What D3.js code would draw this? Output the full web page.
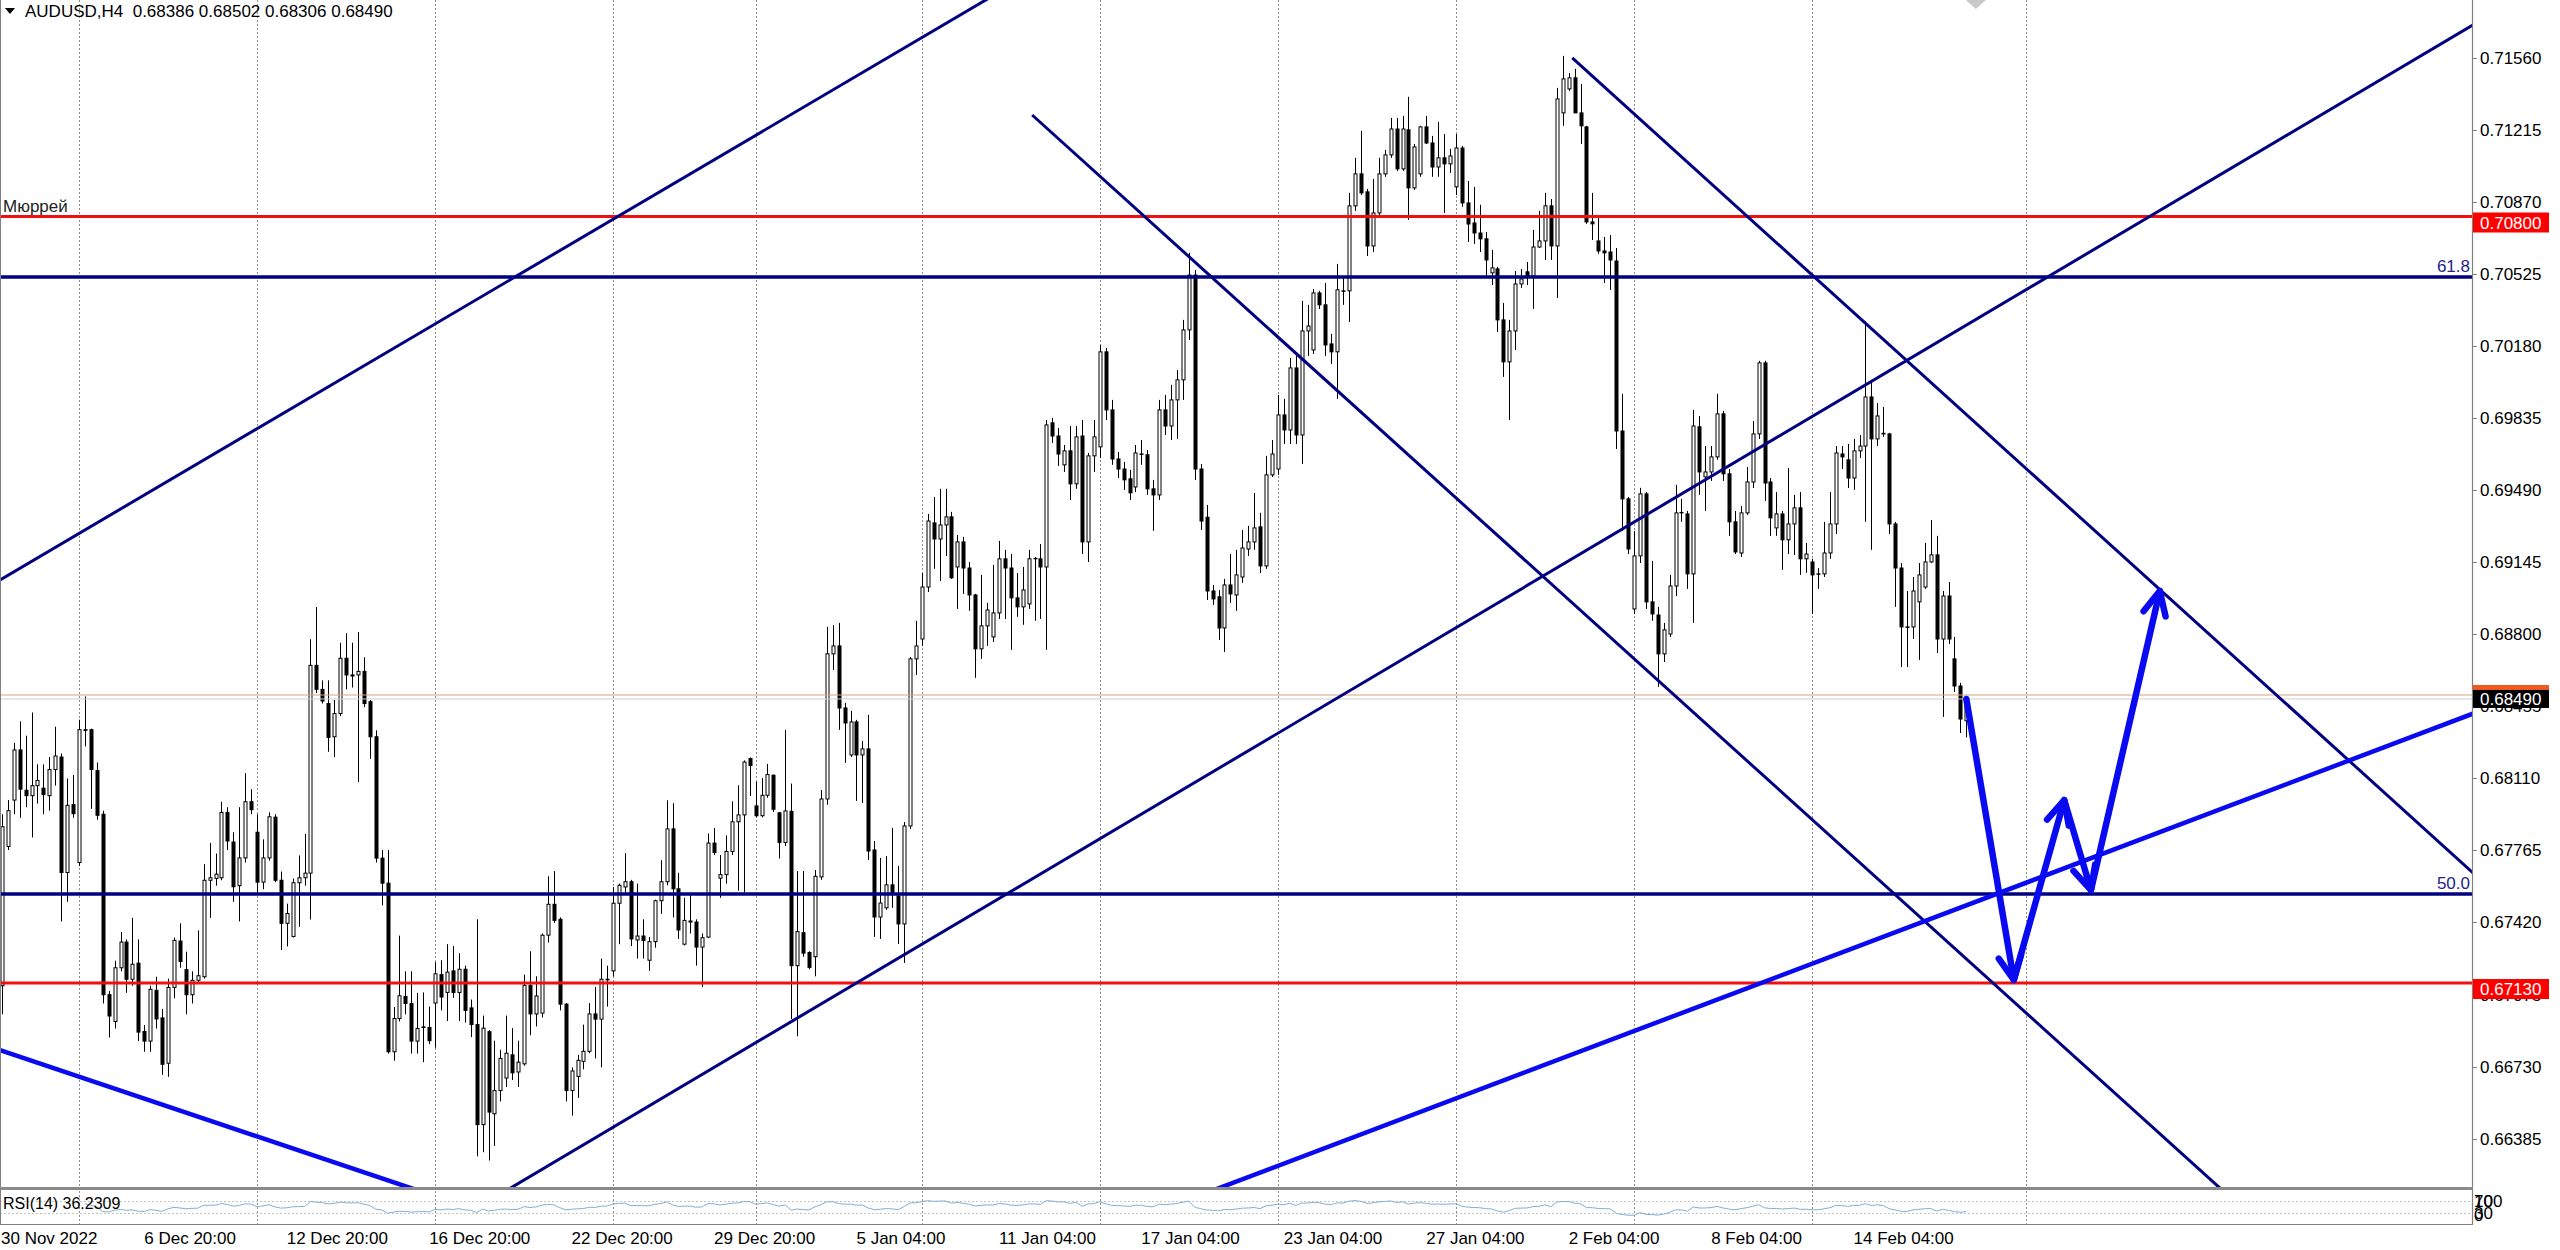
<!DOCTYPE html>
<html><head><meta charset="utf-8">
<script src="https://cdn.jsdelivr.net/npm/d3@7"></script>
<style>html,body{margin:0;padding:0;background:#fff;}svg{display:block;}text{font-family:"Liberation Sans",Arial,sans-serif;}</style>
</head><body>
<svg id="chart" width="2560" height="1250"></svg>
<script>
// ---------------- DATA ----------------
const headerText = "AUDUSD,H4  0.68386 0.68502 0.68306 0.68490";
const opens = [
0.67117,0.67784,0.68006,0.68246,0.68053,0.68027,0.68075,0.68063,0.68027,0.68152,
0.68212,0.67659,0.67984,0.67707,0.68343,0.68343,0.68147,0.67938,0.67074,0.66946,
0.67203,0.67326,0.67148,0.67225,0.66898,0.66852,0.67095,0.66963,0.66746,0.67109,
0.67331,0.67194,0.67074,0.67143,0.67160,0.67622,0.67631,0.67634,0.67947,0.67805,
0.67596,0.67729,0.67998,0.67852,0.67613,0.67729,0.67924,0.67622,0.67416,0.67353,
0.67610,0.67634,0.67656,0.68651,0.68536,0.68468,0.68309,0.68420,0.68685,0.68605,
0.68605,0.68622,0.68477,0.68309,0.67728,0.67608,0.66801,0.66960,0.67066,0.67032,
0.66852,0.66917,0.66917,0.67034,0.67170,0.67085,0.67188,0.67085,0.67196,0.67011,
0.66931,0.66452,0.66897,0.66504,0.66615,0.66675,0.66786,0.66704,0.66743,0.67119,
0.66982,0.66986,0.67359,0.67507,0.67435,0.67029,0.66615,0.66683,0.66755,0.66803,
0.66982,0.66957,0.67145,0.67188,0.67512,0.67590,0.67615,0.67336,0.67355,0.67239,
0.67328,0.67524,0.67615,0.67868,0.67581,0.67316,0.67427,0.67422,0.67302,0.67350,
0.67800,0.67632,0.67649,0.67760,0.67902,0.67935,0.68205,0.67978,0.67931,0.68029,
0.68125,0.67945,0.67803,0.67952,0.67213,0.67371,0.67276,0.67256,0.67638,0.68011,
0.68706,0.68744,0.68447,0.68222,0.68380,0.68222,0.68251,0.67767,0.67446,0.67490,
0.67600,0.67547,0.67413,0.67882,0.68682,0.68777,0.69026,0.69333,0.69256,0.69323,
0.69362,0.69122,0.69242,0.69117,0.68988,0.68730,0.68840,0.68787,0.68902,0.69161,
0.69117,0.68974,0.68931,0.68945,0.69161,0.69161,0.69122,0.69812,0.69749,0.69611,
0.69678,0.69520,0.69749,0.69242,0.69654,0.69697,0.70152,0.69874,0.69639,0.69591,
0.69544,0.69505,0.69663,0.69659,0.69496,0.69467,0.69874,0.69797,0.69922,0.70018,
0.70257,0.70520,0.69591,0.69360,0.69007,0.68979,0.68830,0.69036,0.68988,0.69074,
0.69208,0.69242,0.69314,0.69127,0.69563,0.69591,0.69850,0.69778,0.70075,0.69754,
0.70252,0.70161,0.70434,0.70377,0.70190,0.70152,0.70444,0.70444,0.70851,0.71004,
0.70918,0.70659,0.70817,0.71004,0.71095,0.71219,0.71028,0.71215,0.70937,0.71004,
0.71229,0.71152,0.71037,0.71081,0.71052,0.70942,0.71128,0.70865,0.70769,0.70721,
0.70693,0.70530,0.70549,0.70305,0.70104,0.70252,0.70477,0.70535,0.70515,0.70654,
0.70683,0.70851,0.70659,0.71296,0.71411,0.71464,0.71296,0.71229,0.70774,0.70683,
0.70635,0.70630,0.70587,0.69773,0.69448,0.68921,0.69175,0.69472,0.68955,0.68892,
0.68706,0.68801,0.69031,0.69381,0.69376,0.69089,0.69793,0.69553,0.69577,0.69649,
0.69855,0.69568,0.69338,0.69189,0.69381,0.69529,0.69759,0.70099,0.69529,0.69309,
0.69376,0.69252,0.69328,0.69405,0.69161,0.69146,0.69089,0.69089,0.69189,0.69328,
0.69663,0.69635,0.69548,0.69678,0.69701,0.69936,0.69735,0.69762,0.69759,0.69328,
0.69117,0.68835,0.68835,0.68955,0.69026,0.69146,0.69180,0.68777,0.68983,0.68682,
0.68552,0.68386];
const highs = [
0.67938,0.68006,0.68280,0.68383,0.68314,0.68425,0.68177,0.68177,0.68212,0.68357,
0.68229,0.68109,0.68126,0.68391,0.68502,0.68348,0.68186,0.67955,0.67092,0.67237,
0.67374,0.67339,0.67442,0.67339,0.66929,0.67117,0.67160,0.67006,0.67151,0.67348,
0.67416,0.67280,0.67186,0.67382,0.67699,0.67801,0.67750,0.67998,0.67972,0.67852,
0.67972,0.68135,0.68058,0.67938,0.67818,0.67947,0.67938,0.67664,0.67510,0.67630,
0.67741,0.67844,0.68776,0.68930,0.68579,0.68579,0.68485,0.68759,0.68805,0.68759,
0.68810,0.68690,0.68485,0.68340,0.67767,0.67767,0.67015,0.67357,0.67186,0.67186,
0.67083,0.67085,0.67017,0.67230,0.67239,0.67316,0.67307,0.67273,0.67213,0.67051,
0.67435,0.66974,0.66905,0.66854,0.66811,0.66974,0.66914,0.66854,0.67170,0.67282,
0.67162,0.67367,0.67641,0.67666,0.67444,0.67034,0.66726,0.66786,0.66931,0.67034,
0.67111,0.67247,0.67213,0.67589,0.67606,0.67752,0.67624,0.67606,0.67435,0.67350,
0.67529,0.67718,0.68005,0.67991,0.67658,0.67538,0.67555,0.67435,0.67367,0.67846,
0.67872,0.67743,0.67837,0.68000,0.68077,0.68196,0.68210,0.68094,0.68111,0.68179,
0.68128,0.67949,0.68342,0.68085,0.67666,0.67666,0.67282,0.67671,0.68054,0.68835,
0.68844,0.68854,0.68471,0.68433,0.68390,0.68289,0.68414,0.67810,0.67729,0.67738,
0.67873,0.67691,0.67901,0.68691,0.68864,0.69093,0.69376,0.69457,0.69496,0.69496,
0.69386,0.69275,0.69266,0.69146,0.68993,0.69084,0.68950,0.69132,0.69247,0.69204,
0.69184,0.69093,0.69122,0.69204,0.69170,0.69232,0.69826,0.69836,0.69788,0.69706,
0.69797,0.69797,0.69826,0.69668,0.69826,0.70185,0.70171,0.69922,0.69673,0.69625,
0.69587,0.69706,0.69730,0.69682,0.69539,0.69922,0.69946,0.69994,0.70065,0.70305,
0.70626,0.70544,0.69615,0.69419,0.69036,0.69012,0.69065,0.69184,0.69204,0.69299,
0.69319,0.69476,0.69381,0.69654,0.69730,0.69946,0.69927,0.70123,0.70132,0.70396,
0.70377,0.70453,0.70444,0.70482,0.70238,0.70573,0.70511,0.70913,0.71081,0.71210,
0.70932,0.70980,0.71081,0.71119,0.71272,0.71272,0.71282,0.71373,0.71147,0.71234,
0.71282,0.71186,0.71253,0.71195,0.71124,0.71195,0.71138,0.70970,0.70942,0.70856,
0.70726,0.70640,0.70559,0.70386,0.70305,0.70539,0.70549,0.70582,0.70736,0.70827,
0.70913,0.70884,0.71416,0.71569,0.71487,0.71507,0.71435,0.71234,0.70913,0.70793,
0.70702,0.70712,0.70649,0.69951,0.69457,0.69295,0.69501,0.69481,0.69151,0.68931,
0.68854,0.69084,0.69515,0.69448,0.69390,0.69874,0.69845,0.69701,0.69701,0.69951,
0.69869,0.69591,0.69390,0.69414,0.69601,0.69821,0.70109,0.70109,0.69548,0.69481,
0.69390,0.69596,0.69467,0.69481,0.69237,0.69161,0.69117,0.69338,0.69481,0.69701,
0.69701,0.69711,0.69735,0.69754,0.70300,0.70008,0.69907,0.69888,0.69764,0.69338,
0.69141,0.69007,0.69074,0.69141,0.69237,0.69347,0.69271,0.69007,0.69050,0.68787,
0.68567,0.68502];
const lows = [
0.66980,0.67767,0.67938,0.67921,0.67972,0.67827,0.67989,0.67938,0.67955,0.68075,
0.67425,0.67519,0.67921,0.67690,0.68263,0.67964,0.67912,0.67032,0.66869,0.66912,
0.67186,0.67083,0.67117,0.66852,0.66801,0.66801,0.66912,0.66690,0.66681,0.67057,
0.67203,0.66980,0.67032,0.67126,0.67151,0.67442,0.67596,0.67622,0.67767,0.67519,
0.67425,0.67707,0.67938,0.67562,0.67579,0.67716,0.67613,0.67288,0.67305,0.67348,
0.67399,0.67596,0.67434,0.68519,0.68468,0.68237,0.68212,0.68408,0.68536,0.68545,
0.68092,0.68451,0.68203,0.67707,0.67502,0.66792,0.66758,0.66946,0.66980,0.66792,
0.66792,0.66751,0.66837,0.66820,0.66999,0.66948,0.67059,0.66948,0.66940,0.66871,
0.66300,0.66320,0.66280,0.66350,0.66563,0.66632,0.66666,0.66632,0.66734,0.66880,
0.66922,0.66965,0.67324,0.67418,0.66999,0.66563,0.66495,0.66580,0.66717,0.66794,
0.66769,0.66726,0.67017,0.67162,0.67316,0.67555,0.67307,0.67247,0.67247,0.67188,
0.67299,0.67461,0.67598,0.67444,0.67341,0.67310,0.67367,0.67213,0.67111,0.67346,
0.67743,0.67538,0.67606,0.67743,0.67572,0.67564,0.68025,0.67923,0.67923,0.68017,
0.67949,0.67726,0.67786,0.66957,0.66875,0.67256,0.67196,0.67162,0.67624,0.67983,
0.68629,0.68342,0.68184,0.68212,0.68002,0.67992,0.67719,0.67351,0.67341,0.67480,
0.67490,0.67317,0.67226,0.67868,0.68605,0.68744,0.69002,0.69113,0.69055,0.69175,
0.69065,0.68921,0.68993,0.68912,0.68591,0.68682,0.68744,0.68763,0.68873,0.68873,
0.68725,0.68883,0.68845,0.68921,0.68864,0.68873,0.68725,0.69716,0.69606,0.69577,
0.69443,0.69496,0.69184,0.69146,0.69577,0.69644,0.69826,0.69611,0.69548,0.69491,
0.69443,0.69481,0.69611,0.69467,0.69295,0.69443,0.69754,0.69730,0.69735,0.69922,
0.70209,0.69539,0.69299,0.68964,0.68940,0.68773,0.68715,0.68950,0.68912,0.69046,
0.69175,0.69204,0.69093,0.69113,0.69553,0.69563,0.69711,0.69711,0.69711,0.69615,
0.70132,0.70142,0.70357,0.70132,0.70094,0.69927,0.70377,0.70295,0.70827,0.70903,
0.70611,0.70630,0.70803,0.70990,0.71081,0.71018,0.71018,0.70784,0.70927,0.70990,
0.71147,0.70990,0.70990,0.70817,0.71009,0.70903,0.70846,0.70678,0.70669,0.70630,
0.70511,0.70472,0.70247,0.70032,0.69826,0.70161,0.70458,0.70472,0.70357,0.70650,
0.70592,0.70592,0.70410,0.71234,0.71401,0.71296,0.71147,0.70765,0.70688,0.70621,
0.70482,0.70448,0.69687,0.69295,0.69184,0.68897,0.69141,0.68921,0.68864,0.68548,
0.68667,0.68787,0.68983,0.69338,0.69017,0.68854,0.69467,0.69390,0.69534,0.69635,
0.69534,0.69271,0.69184,0.69170,0.69371,0.69500,0.69735,0.69438,0.69271,0.69271,
0.69108,0.69184,0.69179,0.69084,0.69094,0.68897,0.69017,0.69074,0.69161,0.69280,
0.69591,0.69500,0.69491,0.69644,0.69338,0.69204,0.69701,0.69745,0.69280,0.68931,
0.68643,0.68643,0.68777,0.68677,0.69017,0.69141,0.68710,0.68404,0.68753,0.68524,
0.68327,0.68306];
const closes = [
0.67878,0.67955,0.68246,0.68058,0.68027,0.68075,0.68100,0.68032,0.68152,0.68217,
0.67659,0.67981,0.67941,0.68343,0.68340,0.68152,0.67933,0.67074,0.66972,0.67203,
0.67326,0.67148,0.67220,0.66895,0.66852,0.67100,0.66958,0.66741,0.67109,0.67334,
0.67233,0.67074,0.67143,0.67165,0.67622,0.67634,0.67651,0.67947,0.67810,0.67591,
0.67729,0.67998,0.67960,0.67613,0.67729,0.67926,0.67622,0.67416,0.67463,0.67610,
0.67634,0.67656,0.68651,0.68536,0.68480,0.68306,0.68420,0.68685,0.68605,0.68600,
0.68622,0.68468,0.68309,0.67728,0.67608,0.66801,0.66960,0.67069,0.67032,0.66852,
0.66912,0.66920,0.66854,0.67174,0.67063,0.67182,0.67085,0.67196,0.66999,0.66931,
0.66452,0.66914,0.66512,0.66615,0.66769,0.66794,0.66700,0.66751,0.67119,0.66982,
0.67068,0.67359,0.67507,0.67430,0.67029,0.66615,0.66709,0.66760,0.66803,0.66982,
0.66957,0.67148,0.67148,0.67512,0.67598,0.67615,0.67341,0.67355,0.67333,0.67328,
0.67524,0.67615,0.67868,0.67581,0.67384,0.67430,0.67422,0.67302,0.67347,0.67800,
0.67755,0.67649,0.67760,0.67902,0.67935,0.68188,0.68171,0.67931,0.68029,0.68128,
0.67962,0.67803,0.67954,0.67213,0.67376,0.67273,0.67205,0.67641,0.68011,0.68706,
0.68744,0.68447,0.68375,0.68380,0.68222,0.68251,0.67762,0.67446,0.67513,0.67600,
0.67561,0.67413,0.67882,0.68682,0.68744,0.69026,0.69342,0.69256,0.69323,0.69362,
0.69070,0.69242,0.69117,0.68988,0.68730,0.68840,0.68916,0.68902,0.69161,0.69117,
0.68974,0.68931,0.69012,0.69161,0.69163,0.69122,0.69802,0.69749,0.69663,0.69678,
0.69520,0.69745,0.69242,0.69654,0.69745,0.70152,0.69874,0.69639,0.69591,0.69539,
0.69477,0.69668,0.69661,0.69496,0.69467,0.69874,0.69797,0.69922,0.70018,0.70257,
0.70520,0.69591,0.69342,0.69007,0.68969,0.68830,0.69036,0.68993,0.69084,0.69213,
0.69242,0.69309,0.69127,0.69563,0.69663,0.69850,0.69778,0.70075,0.69754,0.70252,
0.70276,0.70434,0.70377,0.70185,0.70152,0.70449,0.70442,0.70851,0.71004,0.70913,
0.70659,0.70817,0.71004,0.71095,0.71219,0.71028,0.71219,0.70937,0.71133,0.71229,
0.71152,0.71037,0.71081,0.71052,0.71090,0.71128,0.70865,0.70764,0.70721,0.70693,
0.70592,0.70554,0.70305,0.70104,0.70252,0.70477,0.70501,0.70515,0.70654,0.70683,
0.70851,0.70659,0.71363,0.71459,0.71464,0.71296,0.71234,0.70774,0.70765,0.70635,
0.70626,0.70592,0.69773,0.69448,0.69208,0.69175,0.69472,0.68955,0.68897,0.68706,
0.68821,0.69031,0.69381,0.69383,0.69089,0.69797,0.69577,0.69577,0.69649,0.69855,
0.69568,0.69338,0.69194,0.69381,0.69529,0.69759,0.70099,0.69524,0.69357,0.69376,
0.69252,0.69328,0.69405,0.69161,0.69184,0.69084,0.69087,0.69189,0.69328,0.69668,
0.69649,0.69548,0.69678,0.69701,0.69936,0.69735,0.69845,0.69759,0.69328,0.69117,
0.68835,0.68833,0.69007,0.69084,0.69146,0.69180,0.68777,0.68983,0.68777,0.68552,
0.68394,0.68490];

const priceTicks = [0.71560,0.71215,0.70870,0.70525,0.70180,0.69835,0.69490,0.69145,0.68800,0.68455,0.68110,0.67765,0.67420,0.67075,0.66730,0.66385];
const timeLabels = ["30 Nov 2022","6 Dec 20:00","12 Dec 20:00","16 Dec 20:00","22 Dec 20:00","29 Dec 20:00","5 Jan 04:00","11 Jan 04:00","17 Jan 04:00","23 Jan 04:00","27 Jan 04:00","2 Feb 04:00","8 Feb 04:00","14 Feb 04:00"];
const timeLabelBars = [0,24,48,72,96,120,144,168,192,216,240,264,288,312];
const weekStartBars = [13,43,73,103,127,155,185,215,245,275,305,341];

// horizontal levels
const redLevels = [0.70800, 0.67130];
const fibLevels = [0.70510, 0.67556];
const fibLabels = ["61.8", "50.0"];
const askPrice = 0.68509;
const bidPrice = 0.68490;
// trend lines: [bar1, price1, bar2, price2]
const navyLines = [
  [-0.31, 0.69060, 165.8, 0.71837],
  [85.45, 0.66144, 416.2, 0.71715],
  [173.6, 0.71286, 373.9, 0.66144],
  [264.6, 0.71559, 416.2, 0.67662]
];
const navyLineRay = [false, false, true, true];
const blueLines = [
  [-0.31, 0.66809, 54.8, 0.66283],
  [204.7, 0.66144, 416.2, 0.68418]
];
// forecast arrow path
const arrowBars = [331, 339, 347.5, 352, 363.6];
const arrowPrices = [0.68490, 0.67145, 0.68006, 0.67575, 0.69007];
const rsiPeriod = 14;
const rsiText = "RSI(14) 36.2309";
const rsiLevels = [70, 30];
const rsiAxisLabels = ["100", "70", "30", "0"];

// ---------------- LAYOUT ----------------
const plotRight = 2472, mainBottom = 1188, rsiTop = 1191, rsiBottom = 1224;
const svg = d3.select("#chart");
const x = d3.scaleLinear().domain([-0.3117, 416.2]).range([0, plotRight]);
const y = d3.scaleLinear().domain([0.661390, 0.718366]).range([1190, 0]);
const ry = d3.scaleLinear().domain([0, 100]).range([rsiBottom - 1, rsiTop]);
const NAVY = "#000080", BLUE = "#0a0af0", RED = "#f01010";
const FONT = 17;

svg.append("rect").attr("width", 2560).attr("height", 1250).attr("fill", "#fff");
const defs = svg.append("defs");
defs.append("clipPath").attr("id", "mainclip").append("rect").attr("x", 0).attr("y", 0).attr("width", plotRight).attr("height", mainBottom - 1);
defs.append("clipPath").attr("id", "rsiclip").append("rect").attr("x", 0).attr("y", rsiTop).attr("width", plotRight).attr("height", rsiBottom - rsiTop);

// vertical dotted grid
const grid = svg.append("g").attr("stroke", "#8c8c8c").attr("stroke-width", 1).attr("stroke-dasharray", "2,2");
weekStartBars.forEach(b => {
  const gx = Math.round(x(b)) + 0.5;
  grid.append("line").attr("x1", gx).attr("x2", gx).attr("y1", 0).attr("y2", mainBottom - 1);
  grid.append("line").attr("x1", gx).attr("x2", gx).attr("y1", rsiTop).attr("y2", rsiBottom);
});

// candles
const main = svg.append("g").attr("clip-path", "url(#mainclip)");
const cg = main.append("g");
for (let i = 0; i < closes.length; i++) {
  const cx = Math.round(x(i));
  cg.append("line").attr("x1", cx + 0.5).attr("x2", cx + 0.5)
    .attr("y1", y(highs[i])).attr("y2", y(lows[i]))
    .attr("stroke", "#000").attr("stroke-width", 1);
  const top = y(Math.max(opens[i], closes[i])), bot = y(Math.min(opens[i], closes[i]));
  const bull = closes[i] >= opens[i];
  cg.append("rect").attr("x", cx - 1).attr("width", 3)
    .attr("y", top).attr("height", Math.max(0, bot - top))
    .attr("fill", bull ? "#fff" : "#000").attr("stroke", "#000").attr("stroke-width", 1);
}

// bid / ask lines
main.append("line").attr("x1", 0).attr("x2", plotRight).attr("y1", y(askPrice)).attr("y2", y(askPrice)).attr("stroke", "#d9a67e").attr("stroke-width", 1.2);
main.append("line").attr("x1", 0).attr("x2", plotRight).attr("y1", y(bidPrice)).attr("y2", y(bidPrice)).attr("stroke", "#cfcfcf").attr("stroke-width", 1);

// horizontal levels
redLevels.forEach(p => main.append("line").attr("x1", 0).attr("x2", plotRight).attr("y1", y(p)).attr("y2", y(p)).attr("stroke", RED).attr("stroke-width", 3));
fibLevels.forEach(p => main.append("line").attr("x1", 0).attr("x2", plotRight).attr("y1", y(p)).attr("y2", y(p)).attr("stroke", NAVY).attr("stroke-width", 3.5));

// trend lines
function drawLine(l, ray, color, w) {
  const x1 = x(l[0]), y1 = y(l[1]), x2 = x(l[2]), y2 = y(l[3]);
  const k = (y2 - y1) / (x2 - x1);
  const xa = ray ? x1 : -200, xb = 2700;
  main.append("line").attr("x1", xa).attr("y1", y1 + k * (xa - x1)).attr("x2", xb).attr("y2", y1 + k * (xb - x1))
    .attr("stroke", color).attr("stroke-width", w);
}
navyLines.forEach((l, i) => drawLine(l, navyLineRay[i], NAVY, 3));
blueLines.forEach(l => drawLine(l, false, BLUE, 4.5));

// arrow path
const pts = arrowBars.map((b, i) => [x(b), y(arrowPrices[i])]);
main.append("path").attr("d", d3.line()(pts)).attr("fill", "none").attr("stroke", BLUE).attr("stroke-width", 6.5).attr("stroke-linejoin", "round").attr("stroke-linecap", "round");
for (let k = 1; k < pts.length; k++) {
  const [x0, y0] = pts[k - 1], [x1, y1] = pts[k];
  const ang = Math.atan2(y1 - y0, x1 - x0), L = 26, a = Math.PI / 7;
  const p1 = [x1 + L * Math.cos(ang + Math.PI - a), y1 + L * Math.sin(ang + Math.PI - a)];
  const p2 = [x1 + L * Math.cos(ang + Math.PI + a), y1 + L * Math.sin(ang + Math.PI + a)];
  main.append("path").attr("d", d3.line()([p1, [x1, y1], p2])).attr("fill", "none").attr("stroke", BLUE).attr("stroke-width", 6.5).attr("stroke-linejoin", "round").attr("stroke-linecap", "round");
}

// shift marker
const sx = x(332.6);
svg.append("path").attr("d", `M${sx - 10},0L${sx + 10},0L${sx},9Z`).attr("fill", "#c8c8c8");

// texts in main pane
svg.append("path").attr("d", "M5,8L15,8L10,14Z").attr("fill", "#000");
svg.append("text").attr("x", 25).attr("y", 17).attr("font-size", FONT).style("white-space", "pre").text(headerText);
svg.append("text").attr("x", 3).attr("y", y(redLevels[0]) - 5).attr("font-size", FONT).attr("fill", "#222").text("Мюррей");
fibLevels.forEach((p, i) => svg.append("text").attr("x", plotRight - 2).attr("y", y(p) - 5).attr("text-anchor", "end").attr("font-size", FONT).attr("fill", "#23238c").text(fibLabels[i]));

// RSI
const rsi = new Array(closes.length).fill(null);
{
  let g = 0, l = 0;
  for (let i = 1; i <= rsiPeriod; i++) { const d = closes[i] - closes[i - 1]; if (d > 0) g += d; else l -= d; }
  g /= rsiPeriod; l /= rsiPeriod;
  rsi[rsiPeriod] = l === 0 ? 100 : 100 - 100 / (1 + g / l);
  for (let i = rsiPeriod + 1; i < closes.length; i++) {
    const d = closes[i] - closes[i - 1];
    g = (g * (rsiPeriod - 1) + Math.max(d, 0)) / rsiPeriod;
    l = (l * (rsiPeriod - 1) + Math.max(-d, 0)) / rsiPeriod;
    rsi[i] = l === 0 ? 100 : 100 - 100 / (1 + g / l);
  }
}
const rg = svg.append("g").attr("clip-path", "url(#rsiclip)");
rsiLevels.forEach(v => rg.append("line").attr("x1", 0).attr("x2", plotRight).attr("y1", Math.round(ry(v)) + 0.5).attr("y2", Math.round(ry(v)) + 0.5).attr("stroke", "#c4c4c4").attr("stroke-dasharray", "2,2"));
const rsiPts = rsi.map((v, i) => v === null ? null : [x(i), ry(v)]).filter(d => d);
rg.append("path").attr("d", d3.line()(rsiPts)).attr("fill", "none").attr("stroke", "#7fb0d6").attr("stroke-width", 1);
svg.append("text").attr("x", 3).attr("y", 1209).attr("font-size", 16).text(rsiText);

// pane borders
const bord = svg.append("g").attr("stroke", "#808080");
bord.append("line").attr("x1", 0.5).attr("x2", 0.5).attr("y1", 0).attr("y2", rsiBottom);
bord.append("line").attr("x1", plotRight + 0.5).attr("x2", plotRight + 0.5).attr("y1", 0).attr("y2", rsiBottom + 0.5).attr("stroke-width", 1.2);
bord.append("line").attr("x1", 0).attr("x2", plotRight + 1).attr("y1", mainBottom + 0.5).attr("y2", mainBottom + 0.5).attr("stroke-width", 3).attr("stroke", "#8a8a8a");
bord.append("line").attr("x1", 0).attr("x2", plotRight + 1).attr("y1", rsiBottom + 0.5).attr("y2", rsiBottom + 0.5);

// price axis
const ax = svg.append("g");
priceTicks.forEach(p => {
  const ty = y(p);
  ax.append("line").attr("x1", plotRight).attr("x2", plotRight + 5).attr("y1", Math.round(ty) + 0.5).attr("y2", Math.round(ty) + 0.5).attr("stroke", "#808080");
  ax.append("text").attr("x", plotRight + 8).attr("y", ty + 6).attr("font-size", FONT).attr("fill", "#000").text(p.toFixed(5));
});
// level labels on axis
redLevels.forEach(p => {
  const ly = y(p);
  ax.append("rect").attr("x", plotRight + 1).attr("y", ly - 4).attr("width", 76).attr("height", 20).attr("fill", "#ff0000");
  ax.append("text").attr("x", plotRight + 8).attr("y", ly + 12).attr("font-size", FONT).attr("fill", "#fff").text(p.toFixed(5));
});
{
  const ay = y(askPrice), by = y(bidPrice);
  ax.append("rect").attr("x", plotRight + 1).attr("y", ay - 10).attr("width", 76).attr("height", 20).attr("fill", "#f05a1e");
  ax.append("rect").attr("x", plotRight + 1).attr("y", by - 9).attr("width", 76).attr("height", 18).attr("fill", "#000");
  ax.append("text").attr("x", plotRight + 8).attr("y", by + 6).attr("font-size", FONT).attr("fill", "#fff").text(bidPrice.toFixed(5));
}
// RSI axis labels (overlapping as in original)
ax.append("text").attr("x", plotRight + 2).attr("y", ry(100) + 16).attr("font-size", FONT).text(rsiAxisLabels[0]);
ax.append("text").attr("x", plotRight + 2).attr("y", ry(70) + 6).attr("font-size", FONT).text(rsiAxisLabels[1]);
ax.append("text").attr("x", plotRight + 2).attr("y", ry(30) + 6).attr("font-size", FONT).text(rsiAxisLabels[2]);
ax.append("text").attr("x", plotRight + 2).attr("y", ry(0) - 2).attr("font-size", FONT).text(rsiAxisLabels[3]);

// time axis
timeLabels.forEach((t, i) => {
  const tx = i === 0 ? 1 : x(timeLabelBars[i]);
  svg.append("text").attr("x", tx).attr("y", 1244).attr("font-size", FONT).attr("fill", "#000").text(t);
});
</script>
</body></html>
